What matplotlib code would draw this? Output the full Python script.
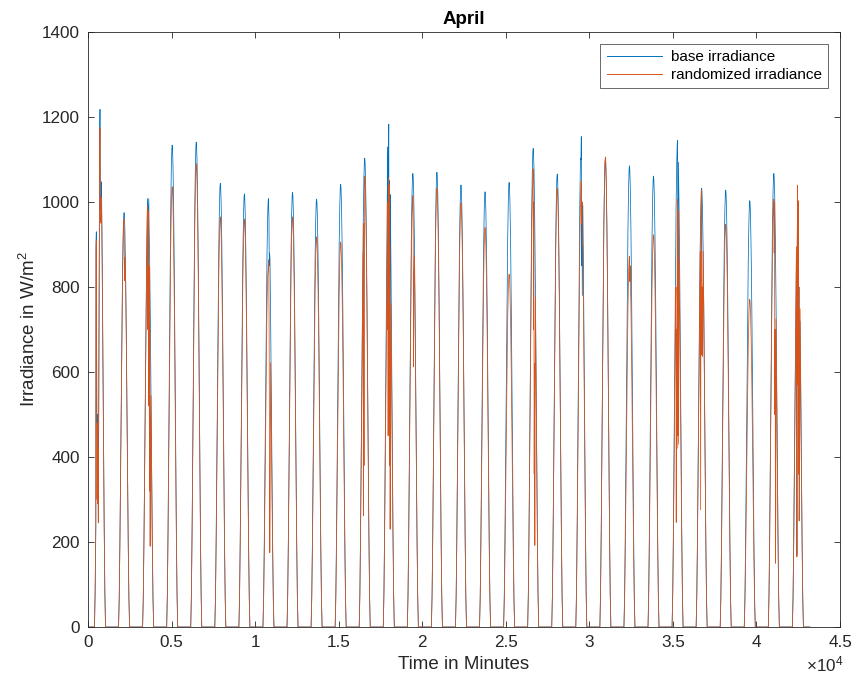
import matplotlib
matplotlib.use("Agg")
import matplotlib.pyplot as plt

plt.rcParams['font.family'] = ['Liberation Sans', 'DejaVu Sans']
plt.rcParams['mathtext.fontset'] = 'custom'
plt.rcParams['mathtext.rm'] = 'Liberation Sans'
plt.rcParams['mathtext.default'] = 'regular'

# ---- data -------------------------------------------------------------
n_days = 30
minutes_per_day = 1440
solar_noon = 720

# clear-sky shape of one day, relative to the daily peak (minutes from noon)
profile_offset = [-330, -290, -250, -210, -170, -130, -90, -50, -20, 0,
                  20, 50, 90, 130, 170, 210, 250, 290, 330]
profile_frac = [0.0, 0.07, 0.2, 0.37, 0.55, 0.72, 0.86, 0.955, 0.993, 1.0,
                0.993, 0.955, 0.86, 0.72, 0.55, 0.37, 0.2, 0.07, 0.0]

# daily peak irradiance (W/m^2)
base_peak = [1218, 975, 1008, 1134, 1141, 1044, 1019, 1008, 1023, 1007,
             1042, 1103, 1183, 1067, 1070, 1040, 1024, 1046, 1126, 1066,
             1154, 1100, 1085, 1061, 1145, 1032, 1028, 1003, 1067, 1000]
rand_peak = [1175, 960, 990, 1036, 1090, 965, 960, 864, 965, 918,
             906, 1061, 1057, 1015, 1032, 998, 940, 830, 1078, 1032,
             1049, 1106, 872, 923, 1007, 1028, 948, 771, 1007, 1040]

# cloud passages: (day, minutes from noon, irradiance)
base_events = [
    (1, -240, 900), (1, -220, 930), (1, -190, 480), (1, -160, 500), (1, -130, 460),
    (1, -100, 250), (1, -20, 1150), (1, 0, 1218), (1, 30, 980), (1, 60, 1000),
    (3, -40, 1008), (3, 0, 960), (3, 40, 1008),
    (8, 0, 1008), (8, 30, 960), (8, 50, 850), (8, 70, 880),
    (13, -40, 900), (13, -20, 1120), (13, 0, 1183), (13, 20, 600), (13, 40, 1050),
    (13, 60, 450), (13, 80, 700),
    (21, -20, 1100), (21, 0, 1154), (21, 20, 850), (21, 40, 1000), (21, 60, 780),
    (25, 0, 1145), (25, 20, 900), (25, 40, 1050),
    (30, -80, 700), (30, -60, 170), (30, -40, 900), (30, -20, 1000), (30, 0, 570),
    (30, 20, 990), (30, 40, 360), (30, 60, 800), (30, 80, 250), (30, 100, 400),
]
rand_events = [
    (1, -240, 880), (1, -220, 910), (1, -190, 470), (1, -175, 300), (1, -160, 480),
    (1, -140, 290), (1, -120, 420), (1, -100, 245), (1, -20, 1100), (1, 0, 1175),
    (1, 30, 960), (1, 60, 950),
    (2, 0, 960), (2, 30, 815), (2, 60, 870),
    (3, -60, 960), (3, -40, 990), (3, -20, 700), (3, 0, 980), (3, 20, 960),
    (3, 40, 520), (3, 60, 850), (3, 80, 320), (3, 100, 700), (3, 120, 190), (3, 140, 450),
    (8, -20, 840), (8, 0, 864), (8, 20, 850), (8, 40, 700), (8, 60, 420),
    (8, 80, 175), (8, 100, 300),
    (12, -100, 880), (12, -80, 262), (12, -60, 950), (12, -40, 380), (12, -20, 1040),
    (12, 0, 1061),
    (13, -80, 700), (13, -60, 1000), (13, -40, 450), (13, -20, 1057), (13, 0, 620),
    (13, 20, 1040), (13, 40, 380), (13, 60, 900), (13, 80, 230), (13, 100, 500),
    (14, 0, 1015), (14, 20, 960), (14, 40, 612), (14, 60, 800),
    (19, -20, 1040), (19, 0, 1078), (19, 20, 700), (19, 40, 1000), (19, 60, 360),
    (19, 80, 620), (19, 100, 192),
    (21, 0, 1049), (21, 20, 948), (21, 40, 1000), (21, 60, 900),
    (23, 0, 872), (23, 20, 813), (23, 40, 850),
    (25, -100, 800), (25, -80, 246), (25, -60, 700), (25, -40, 420), (25, -20, 950),
    (25, 0, 1007), (25, 20, 450), (25, 40, 980), (25, 60, 430), (25, 80, 700),
    (26, -80, 700), (26, -60, 276), (26, -40, 900), (26, -20, 1028), (26, 0, 1000),
    (26, 20, 640), (26, 40, 800), (26, 60, 637),
    (29, 0, 1007), (29, 20, 880), (29, 40, 1000), (29, 60, 500), (29, 80, 700),
    (29, 100, 150), (29, 120, 300),
    (30, -80, 700), (30, -60, 165), (30, -40, 900), (30, -20, 1040), (30, 0, 570),
    (30, 20, 1003), (30, 40, 360), (30, 60, 800), (30, 80, 250), (30, 100, 400),
]


def build_series(peaks, events):
    t, y = [0.0], [0.0]
    for d in range(n_days):
        ev = [(o, v) for (dd, o, v) in events if dd == d + 1]
        pts = {}
        lo = min(o for o, _ in ev) if ev else None
        hi = max(o for o, _ in ev) if ev else None
        for o, f in zip(profile_offset, profile_frac):
            if ev and lo <= o <= hi:
                continue
            pts[o] = peaks[d] * f
        for o, v in ev:
            pts[o] = v
        start = d * minutes_per_day + solar_noon
        for o in sorted(pts):
            t.append(start + o)
            y.append(pts[o])
    t.append(n_days * minutes_per_day)
    y.append(0.0)
    return t, y


t_base, y_base = build_series(base_peak, base_events)
t_rand, y_rand = build_series(rand_peak, rand_events)

# ---- figure -----------------------------------------------------------
fig = plt.figure(figsize=(8.59, 6.87), dpi=100)
ax = fig.add_axes([0.1024, 0.0873, 0.8755, 0.8661])

dark = '#262626'
ax.plot(t_base, y_base, color='#0072BD', lw=0.55, label='base irradiance')
ax.plot(t_rand, y_rand, color='#D95319', lw=0.55, label='randomized irradiance')

ax.set_xlim(0, 45000)
ax.set_ylim(0, 1400)
ax.set_xticks([i * 5000 for i in range(10)])
ax.set_xticklabels(['0', '0.5', '1', '1.5', '2', '2.5', '3', '3.5', '4', '4.5'])
ax.set_yticks(range(0, 1401, 200))
ax.tick_params(direction='in', length=4, width=0.6, top=True, right=True,
               labelsize=12.3, colors=dark, pad=6)
for s in ax.spines.values():
    s.set_color(dark)
    s.set_linewidth(0.6)

ax.set_xlabel('Time in Minutes', fontsize=13.5, color=dark, labelpad=4)
ax.set_ylabel('Irradiance in W/m$^2$', fontsize=13.5, color=dark, labelpad=2)
ax.set_title('April', fontsize=13.5, fontweight='bold', color='black', pad=6)
ax.text(1.005, -0.063, r'$\times 10^{4}$', transform=ax.transAxes,
        ha='right', va='center', fontsize=12.3, color=dark)

leg = ax.legend(loc='upper right', fontsize=11, frameon=True, fancybox=False,
                handlelength=3.6, borderaxespad=0.8, labelspacing=0.25,
                handletextpad=0.6, borderpad=0.4)
leg.get_frame().set_edgecolor(dark)
leg.get_frame().set_linewidth(0.6)
for line in leg.get_lines():
    line.set_linewidth(0.7)

fig.savefig('out.png', dpi=100)
